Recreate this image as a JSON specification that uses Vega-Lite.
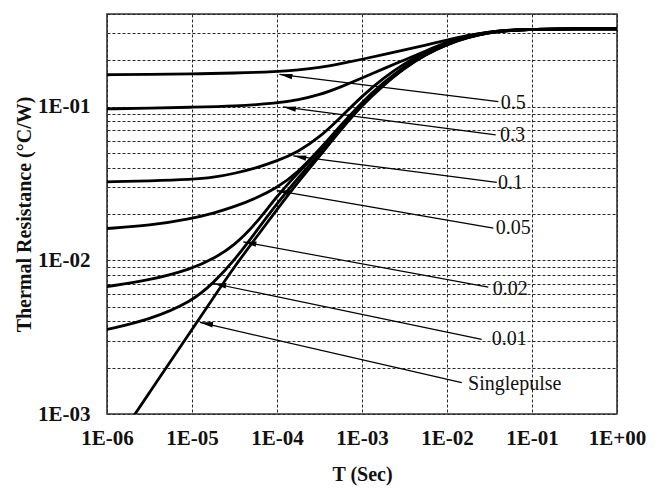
{
  "$schema": "https://vega.github.io/schema/vega-lite/v6.json",
  "width": 510,
  "height": 400,
  "autosize": "none",
  "padding": {"left": 107, "top": 14, "right": 43, "bottom": 74},
  "background": "white",
  "config": {
    "font": "Liberation Serif",
    "view": {"stroke": "#333333", "strokeWidth": 1.6},
    "axis": {"domain": false, "ticks": false, "tickSize": 0, "grid": true, "gridColor": "#2a2a2a", "gridDash": [3, 2], "gridWidth": 1, "labelFont": "Liberation Serif", "labelFontWeight": "bold", "labelFontSize": 21, "labelColor": "#111", "titleFont": "Liberation Serif", "titleFontWeight": "bold", "titleFontSize": 20, "titleColor": "#111", "labelOverlap": false, "labelFlush": false}
  },
  "datasets": {
    "curves": [
      {"s": "0.5", "t": 1e-6, "z": 0.161}, {"s": "0.5", "t": 3.162e-6, "z": 0.162}, {"s": "0.5", "t": 1e-5, "z": 0.163}, {"s": "0.5", "t": 3.162e-5, "z": 0.165}, {"s": "0.5", "t": 1e-4, "z": 0.169}, {"s": "0.5", "t": 1.778e-4, "z": 0.173}, {"s": "0.5", "t": 3.162e-4, "z": 0.179}, {"s": "0.5", "t": 5.623e-4, "z": 0.19}, {"s": "0.5", "t": 1e-3, "z": 0.203}, {"s": "0.5", "t": 1.778e-3, "z": 0.2175}, {"s": "0.5", "t": 3.162e-3, "z": 0.2335}, {"s": "0.5", "t": 5.623e-3, "z": 0.251}, {"s": "0.5", "t": 0.01, "z": 0.271}, {"s": "0.5", "t": 0.01778, "z": 0.291}, {"s": "0.5", "t": 0.03162, "z": 0.306}, {"s": "0.5", "t": 0.05623, "z": 0.315}, {"s": "0.5", "t": 0.1, "z": 0.318}, {"s": "0.5", "t": 0.3162, "z": 0.32}, {"s": "0.5", "t": 1, "z": 0.32},
      {"s": "0.3", "t": 1e-6, "z": 0.0966}, {"s": "0.3", "t": 3.162e-6, "z": 0.0975}, {"s": "0.3", "t": 1e-5, "z": 0.099}, {"s": "0.3", "t": 3.162e-5, "z": 0.1005}, {"s": "0.3", "t": 1e-4, "z": 0.105}, {"s": "0.3", "t": 1.778e-4, "z": 0.1105}, {"s": "0.3", "t": 3.162e-4, "z": 0.119}, {"s": "0.3", "t": 5.623e-4, "z": 0.134}, {"s": "0.3", "t": 1e-3, "z": 0.153}, {"s": "0.3", "t": 1.778e-3, "z": 0.176}, {"s": "0.3", "t": 3.162e-3, "z": 0.201}, {"s": "0.3", "t": 5.623e-3, "z": 0.23}, {"s": "0.3", "t": 0.01, "z": 0.263}, {"s": "0.3", "t": 0.01778, "z": 0.289}, {"s": "0.3", "t": 0.03162, "z": 0.306}, {"s": "0.3", "t": 0.05623, "z": 0.315}, {"s": "0.3", "t": 0.1, "z": 0.318}, {"s": "0.3", "t": 0.3162, "z": 0.32}, {"s": "0.3", "t": 1, "z": 0.32},
      {"s": "0.1", "t": 1e-6, "z": 0.0324}, {"s": "0.1", "t": 3.162e-6, "z": 0.0328}, {"s": "0.1", "t": 1e-5, "z": 0.0335}, {"s": "0.1", "t": 1.778e-5, "z": 0.0345}, {"s": "0.1", "t": 3.162e-5, "z": 0.0367}, {"s": "0.1", "t": 5.623e-5, "z": 0.0398}, {"s": "0.1", "t": 1e-4, "z": 0.0442}, {"s": "0.1", "t": 1.778e-4, "z": 0.0508}, {"s": "0.1", "t": 3.162e-4, "z": 0.063}, {"s": "0.1", "t": 5.623e-4, "z": 0.085}, {"s": "0.1", "t": 1e-3, "z": 0.117}, {"s": "0.1", "t": 1.778e-3, "z": 0.153}, {"s": "0.1", "t": 3.162e-3, "z": 0.191}, {"s": "0.1", "t": 5.623e-3, "z": 0.227}, {"s": "0.1", "t": 0.01, "z": 0.26}, {"s": "0.1", "t": 0.01778, "z": 0.287}, {"s": "0.1", "t": 0.03162, "z": 0.305}, {"s": "0.1", "t": 0.05623, "z": 0.314}, {"s": "0.1", "t": 0.1, "z": 0.318}, {"s": "0.1", "t": 0.3162, "z": 0.32}, {"s": "0.1", "t": 1, "z": 0.32},
      {"s": "0.05", "t": 1e-6, "z": 0.0161}, {"s": "0.05", "t": 3.162e-6, "z": 0.0168}, {"s": "0.05", "t": 1e-5, "z": 0.0187}, {"s": "0.05", "t": 1.778e-5, "z": 0.0202}, {"s": "0.05", "t": 3.162e-5, "z": 0.0223}, {"s": "0.05", "t": 5.623e-5, "z": 0.0253}, {"s": "0.05", "t": 1e-4, "z": 0.0296}, {"s": "0.05", "t": 1.778e-4, "z": 0.0375}, {"s": "0.05", "t": 3.162e-4, "z": 0.0525}, {"s": "0.05", "t": 5.623e-4, "z": 0.0755}, {"s": "0.05", "t": 1e-3, "z": 0.107}, {"s": "0.05", "t": 1.778e-3, "z": 0.143}, {"s": "0.05", "t": 3.162e-3, "z": 0.183}, {"s": "0.05", "t": 5.623e-3, "z": 0.221}, {"s": "0.05", "t": 0.01, "z": 0.257}, {"s": "0.05", "t": 0.01778, "z": 0.285}, {"s": "0.05", "t": 0.03162, "z": 0.304}, {"s": "0.05", "t": 0.05623, "z": 0.314}, {"s": "0.05", "t": 0.1, "z": 0.318}, {"s": "0.05", "t": 0.3162, "z": 0.32}, {"s": "0.05", "t": 1, "z": 0.32},
      {"s": "0.02", "t": 1e-6, "z": 0.00675}, {"s": "0.02", "t": 3.162e-6, "z": 0.0074}, {"s": "0.02", "t": 1e-5, "z": 0.0088}, {"s": "0.02", "t": 1.778e-5, "z": 0.0102}, {"s": "0.02", "t": 3.162e-5, "z": 0.0125}, {"s": "0.02", "t": 5.623e-5, "z": 0.0172}, {"s": "0.02", "t": 1e-4, "z": 0.0262}, {"s": "0.02", "t": 1.778e-4, "z": 0.0372}, {"s": "0.02", "t": 3.162e-4, "z": 0.0515}, {"s": "0.02", "t": 5.623e-4, "z": 0.0735}, {"s": "0.02", "t": 1e-3, "z": 0.105}, {"s": "0.02", "t": 1.778e-3, "z": 0.14}, {"s": "0.02", "t": 3.162e-3, "z": 0.18}, {"s": "0.02", "t": 5.623e-3, "z": 0.22}, {"s": "0.02", "t": 0.01, "z": 0.256}, {"s": "0.02", "t": 0.01778, "z": 0.284}, {"s": "0.02", "t": 0.03162, "z": 0.304}, {"s": "0.02", "t": 0.05623, "z": 0.314}, {"s": "0.02", "t": 0.1, "z": 0.318}, {"s": "0.02", "t": 0.3162, "z": 0.32}, {"s": "0.02", "t": 1, "z": 0.32},
      {"s": "0.01", "t": 1e-6, "z": 0.00355}, {"s": "0.01", "t": 3.162e-6, "z": 0.0041}, {"s": "0.01", "t": 1e-5, "z": 0.0054}, {"s": "0.01", "t": 1.778e-5, "z": 0.0071}, {"s": "0.01", "t": 3.162e-5, "z": 0.01}, {"s": "0.01", "t": 5.623e-5, "z": 0.0153}, {"s": "0.01", "t": 1e-4, "z": 0.0234}, {"s": "0.01", "t": 1.778e-4, "z": 0.0345}, {"s": "0.01", "t": 3.162e-4, "z": 0.049}, {"s": "0.01", "t": 5.623e-4, "z": 0.0715}, {"s": "0.01", "t": 1e-3, "z": 0.104}, {"s": "0.01", "t": 1.778e-3, "z": 0.139}, {"s": "0.01", "t": 3.162e-3, "z": 0.179}, {"s": "0.01", "t": 5.623e-3, "z": 0.219}, {"s": "0.01", "t": 0.01, "z": 0.255}, {"s": "0.01", "t": 0.01778, "z": 0.283}, {"s": "0.01", "t": 0.03162, "z": 0.303}, {"s": "0.01", "t": 0.05623, "z": 0.313}, {"s": "0.01", "t": 0.1, "z": 0.318}, {"s": "0.01", "t": 0.3162, "z": 0.32}, {"s": "0.01", "t": 1, "z": 0.32},
      {"s": "single", "t": 1.778e-6, "z": 0.00086}, {"s": "single", "t": 3.162e-6, "z": 0.00138}, {"s": "single", "t": 5.623e-6, "z": 0.00221}, {"s": "single", "t": 1e-5, "z": 0.00355}, {"s": "single", "t": 1.778e-5, "z": 0.00569}, {"s": "single", "t": 3.162e-5, "z": 0.0091}, {"s": "single", "t": 5.623e-5, "z": 0.01396}, {"s": "single", "t": 1e-4, "z": 0.0214}, {"s": "single", "t": 1.778e-4, "z": 0.0324}, {"s": "single", "t": 3.162e-4, "z": 0.0475}, {"s": "single", "t": 5.623e-4, "z": 0.0705}, {"s": "single", "t": 1e-3, "z": 0.102}, {"s": "single", "t": 1.778e-3, "z": 0.137}, {"s": "single", "t": 3.162e-3, "z": 0.178}, {"s": "single", "t": 5.623e-3, "z": 0.218}, {"s": "single", "t": 0.01, "z": 0.254}, {"s": "single", "t": 0.01778, "z": 0.282}, {"s": "single", "t": 0.03162, "z": 0.303}, {"s": "single", "t": 0.05623, "z": 0.313}, {"s": "single", "t": 0.1, "z": 0.318}, {"s": "single", "t": 0.3162, "z": 0.32}, {"s": "single", "t": 1, "z": 0.32}
    ],
    "arrows": [
      {"label": "0.5", "t1": 1.067e-4, "z1": 0.162, "t2": 0.0402, "z2": 0.1077, "lt": 0.0429, "lz": 0.1052},
      {"label": "0.3", "t1": 1.178e-4, "z1": 0.0995, "t2": 0.0374, "z2": 0.0655, "lt": 0.0421, "lz": 0.0655},
      {"label": "0.1", "t1": 1.556e-4, "z1": 0.0478, "t2": 0.0385, "z2": 0.0321, "lt": 0.0398, "lz": 0.032},
      {"label": "0.05", "t1": 9.91e-5, "z1": 0.0284, "t2": 0.0351, "z2": 0.0162, "lt": 0.0374, "lz": 0.0162},
      {"label": "0.02", "t1": 4.02e-5, "z1": 0.01317, "t2": 0.0306, "z2": 0.00668, "lt": 0.0345, "lz": 0.00646},
      {"label": "0.01", "t1": 1.78e-5, "z1": 0.00706, "t2": 0.0256, "z2": 0.00306, "lt": 0.0336, "lz": 0.00306},
      {"label": "Singlepulse", "t1": 1.242e-5, "z1": 0.00394, "t2": 0.0149, "z2": 0.0016, "lt": 0.0177, "lz": 0.00156}
    ]
  },
  "layer": [
    {
      "data": {"name": "curves"},
      "mark": {"type": "line", "color": "black", "strokeWidth": 2.8, "interpolate": "basis", "clip": true},
      "encoding": {
        "x": {"field": "t", "type": "quantitative", "scale": {"type": "log", "domain": [1e-6, 1], "nice": false}, "title": "T (Sec)",
          "axis": {"values": [1e-6, 1e-5, 1e-4, 1e-3, 1e-2, 1e-1, 1], "labelPadding": 13, "titlePadding": 16,
            "labelExpr": "datum.value < 5e-6 ? '1E-06' : datum.value < 5e-5 ? '1E-05' : datum.value < 5e-4 ? '1E-04' : datum.value < 5e-3 ? '1E-03' : datum.value < 5e-2 ? '1E-02' : datum.value < 0.5 ? '1E-01' : '1E+00'"}},
        "y": {"field": "z", "type": "quantitative", "scale": {"type": "log", "domain": [0.001, 0.4], "nice": false}, "title": "Thermal Resistance (°C/W)",
          "axis": {"values": [0.001, 0.002, 0.003, 0.004, 0.005, 0.006, 0.007, 0.008, 0.009, 0.01, 0.02, 0.03, 0.04, 0.05, 0.06, 0.07, 0.08, 0.09, 0.1, 0.2, 0.3, 0.4], "labelPadding": 17, "titlePadding": 3,
            "labelExpr": "datum.value == 0.001 ? '1E-03' : datum.value == 0.01 ? '1E-02' : datum.value == 0.1 ? '1E-01' : ''"}},
        "detail": {"field": "s"}
      }
    },
    {
      "data": {"name": "arrows"},
      "mark": {"type": "rule", "color": "black", "strokeWidth": 1.2},
      "encoding": {
        "x": {"field": "t1", "type": "quantitative", "title": "T (Sec)"},
        "y": {"field": "z1", "type": "quantitative", "title": "Thermal Resistance (°C/W)"},
        "x2": {"field": "t2"},
        "y2": {"field": "z2"}
      }
    },
    {
      "data": {"name": "arrows"},
      "mark": {"type": "point", "shape": "M 0 0 L 2 -0.42 L 2 0.42 Z", "filled": true, "color": "black", "opacity": 1, "size": 169, "angle": 10},
      "encoding": {
        "x": {"field": "t1", "type": "quantitative", "title": "T (Sec)"},
        "y": {"field": "z1", "type": "quantitative", "title": "Thermal Resistance (°C/W)"}
      }
    },
    {
      "data": {"name": "arrows"},
      "mark": {"type": "text", "align": "left", "baseline": "middle", "font": "Liberation Serif", "fontSize": 20, "color": "#111"},
      "encoding": {
        "x": {"field": "lt", "type": "quantitative", "title": "T (Sec)"},
        "y": {"field": "lz", "type": "quantitative", "title": "Thermal Resistance (°C/W)"},
        "text": {"field": "label"}
      }
    }
  ]
}
